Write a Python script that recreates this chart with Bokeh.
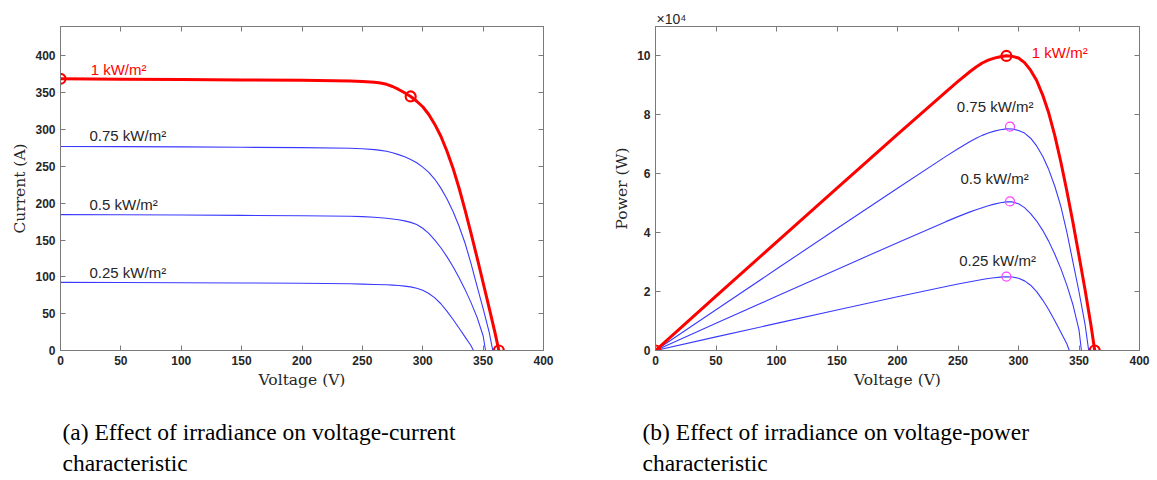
from bokeh.plotting import figure
from bokeh.layouts import row, column
from bokeh.models import ColumnDataSource, LinearAxis, FixedTicker, Range1d, Title
from bokeh.core.properties import value
from bokeh.embed import file_html
from bokeh.resources import INLINE

# ---------------- data ----------------
irradiance_labels = ["1 kW/m²", "0.75 kW/m²", "0.5 kW/m²", "0.25 kW/m²"]

v_1000 = [0, 50, 100, 150, 200, 240, 250, 260, 265, 270, 275, 280, 285, 290, 295, 300, 305, 310,
          315, 320, 325, 330, 335, 340, 345, 350, 355, 360, 363]
i_1000 = [369, 368.5, 368, 367.5, 367, 366, 365.4, 364.3, 363.2, 361.5, 358.5, 354.5, 350, 345, 338.5,
          331, 320.5, 307, 291, 271, 248, 221, 191, 159, 126, 92, 58, 23, 0]

v_750 = [0, 50, 100, 150, 200, 240, 250, 260, 265, 270, 275, 280, 285, 290, 295, 300, 305, 310,
         315, 320, 325, 330, 335, 340, 345, 350, 355, 358]
i_750 = [277, 276.8, 276.5, 276, 275.5, 274.6, 274, 272.8, 271.8, 270.5, 268.5, 266, 263, 259.5, 255,
         249, 242, 232.5, 220.5, 206, 189, 169, 146, 118, 87, 57, 25, 0]

v_500 = [0, 50, 100, 150, 200, 240, 250, 260, 265, 270, 275, 280, 285, 290, 295, 300, 305, 310,
         315, 320, 325, 330, 335, 340, 345, 350, 352]
i_500 = [184.5, 184.3, 184, 183.5, 183, 182.3, 181.8, 181, 180.3, 179.5, 178.6, 177.5, 176, 174, 171,
         166, 159, 150, 139.5, 127.5, 114, 99, 83, 65, 45, 20, 0]

v_250 = [0, 50, 100, 150, 200, 240, 250, 260, 270, 275, 280, 285, 290, 295, 300, 305, 310, 315,
         320, 325, 330, 335, 340, 342]
i_250 = [92.5, 92.3, 92, 91.7, 91.3, 90.6, 90.2, 89.7, 89.2, 88.8, 88.2, 87.4, 86.4, 84.6, 81.8,
         77.5, 71.5, 63.5, 53.5, 42.5, 30.5, 18.5, 6.5, 0]

# marked points
iv_red_v = [0, 290, 363]
iv_red_i = [369, 345, 0]
pv_red_v = [0, 290, 363]
pv_red_p = [0, 10.0, 0]           # x10^4 W
pv_mpp_v = [293, 293, 290]
pv_mpp_p = [7.6, 5.06, 2.51]      # x10^4 W

# label anchor values
iv_lab_v = [25, 24, 24, 24]
iv_lab_i = [381, 292, 198, 106]
pv_lab_v = [311, 249, 252, 251]
pv_lab_p = [10.12, 8.27, 5.84, 3.06]

x_ticks = [0, 50, 100, 150, 200, 250, 300, 350, 400]
iv_y_ticks = [0, 50, 100, 150, 200, 250, 300, 350, 400]
pv_y_ticks = [0, 2, 4, 6, 8, 10]

caption_a = ["(a) Effect of irradiance on voltage-current", "characteristic"]
caption_b = ["(b) Effect of irradiance on voltage-power", "characteristic"]

RED = "#ff0000"
BLUE = "#3a3aff"
MAG = "#ff40ff"
TXT = "#262626"
AX = "#7a7a7a"


def style(p, xticks, yticks, ylabel):
    p.outline_line_color = AX
    p.grid.visible = False
    p.background_fill_color = "white"
    p.border_fill_color = "white"
    for ax in p.xaxis:
        ax.ticker = FixedTicker(ticks=xticks)
        ax.axis_label = "Voltage (V)"
    for ax in p.yaxis:
        ax.ticker = FixedTicker(ticks=yticks)
        ax.axis_label = ylabel
    for ax in p.axis:
        ax.axis_line_color = AX
        ax.major_tick_line_color = AX
        ax.major_tick_in = 5
        ax.major_tick_out = 0
        ax.minor_tick_line_color = None
        ax.major_label_text_font = "Liberation Sans"
        ax.major_label_text_font_style = "bold"
        ax.major_label_text_font_size = "12px"
        ax.major_label_text_color = TXT
        ax.axis_label_text_font = "DejaVu Serif"
        ax.axis_label_text_font_style = "normal"
        ax.axis_label_text_font_size = "15.5px"
        ax.axis_label_text_color = TXT
        ax.major_label_standoff = 5
        ax.axis_label_standoff = 3
    # box ticks on top and right (no labels)
    top = LinearAxis(ticker=FixedTicker(ticks=xticks),
                     major_label_overrides={t: "" for t in xticks},
                     axis_line_color=AX, major_tick_line_color=AX, major_tick_in=5,
                     major_tick_out=0, minor_tick_line_color=None, major_label_standoff=0)
    right = LinearAxis(ticker=FixedTicker(ticks=yticks),
                       major_label_overrides={t: "" for t in yticks},
                       axis_line_color=AX, major_tick_line_color=AX, major_tick_in=5,
                       major_tick_out=0, minor_tick_line_color=None, major_label_standoff=0)
    p.add_layout(top, "above")
    p.add_layout(right, "right")


def caption_fig(width, lines, left):
    # blank panel whose ranges are its own pixels; holds the two caption lines
    c = figure(width=width, height=88, output_backend="svg", toolbar_location=None,
               x_range=Range1d(0, width), y_range=Range1d(88, 0),
               x_axis_type=None, y_axis_type=None, min_border=0)
    c.outline_line_color = None
    c.grid.visible = False
    c.border_fill_color = "white"
    c.background_fill_color = "white"
    src = ColumnDataSource(dict(x=[left, left], y=[39, 70], t=lines))
    c.text("x", "y", text="t", source=src, text_color="black",
           text_font=value("Liberation Serif"), text_font_size="23.5px",
           text_baseline="alphabetic", text_align="left")
    return c


# ---------------- figure (a) ----------------
p1 = figure(width=590, height=392, output_backend="svg", toolbar_location=None,
            x_range=Range1d(0, 400), y_range=Range1d(0, 440),
            min_border_left=60, min_border_right=47, min_border_top=26, min_border_bottom=42)
style(p1, x_ticks, iv_y_ticks, "Current (A)")

for v, i in [(v_250, i_250), (v_500, i_500), (v_750, i_750)]:
    p1.line(v, i, line_color=BLUE, line_width=1.1)
p1.line(v_1000, i_1000, line_color=RED, line_width=3)
p1.scatter(iv_red_v, iv_red_i, marker="circle", size=10, fill_color=None, line_color=RED, line_width=2.2)

src1 = ColumnDataSource(dict(x=iv_lab_v, y=iv_lab_i, t=irradiance_labels,
                             c=[RED, TXT, TXT, TXT]))
p1.text("x", "y", text="t", source=src1, text_color="c", text_font=value("Liberation Sans"),
        text_font_size="15px", text_baseline="alphabetic", text_align="left")

# ---------------- figure (b) ----------------
p2 = figure(width=567, height=392, output_backend="svg", toolbar_location=None,
            x_range=Range1d(0, 400), y_range=Range1d(0, 11),
            min_border_left=65, min_border_right=18, min_border_top=26, min_border_bottom=42)
style(p2, x_ticks, pv_y_ticks, "Power (W)")

for v, i in [(v_250, i_250), (v_500, i_500), (v_750, i_750)]:
    p2.line(v, [a * b / 1e4 for a, b in zip(v, i)], line_color=BLUE, line_width=1.1)
p2.line(v_1000, [a * b / 1e4 for a, b in zip(v_1000, i_1000)], line_color=RED, line_width=3)
p2.scatter(pv_mpp_v, pv_mpp_p, marker="circle", size=9, fill_color=None, line_color=MAG, line_width=1.2)
p2.scatter(pv_red_v, pv_red_p, marker="circle", size=10, fill_color=None, line_color=RED, line_width=2.2)

src2 = ColumnDataSource(dict(x=pv_lab_v, y=pv_lab_p, t=irradiance_labels,
                             c=[RED, TXT, TXT, TXT]))
p2.text("x", "y", text="t", source=src2, text_color="c", text_font=value("Liberation Sans"),
        text_font_size="15px", text_baseline="alphabetic", text_align="left")

p2.add_layout(Title(text="×10⁴", align="left", offset=1, standoff=0, text_font="Liberation Sans",
                    text_font_size="14px", text_font_style="normal", text_color=TXT), "above")

c1 = caption_fig(590, caption_a, 62)
c2 = caption_fig(567, caption_b, 52)

layout = column(row(p1, p2), row(c1, c2))
open("out.html", "w").write(file_html(layout, INLINE))
